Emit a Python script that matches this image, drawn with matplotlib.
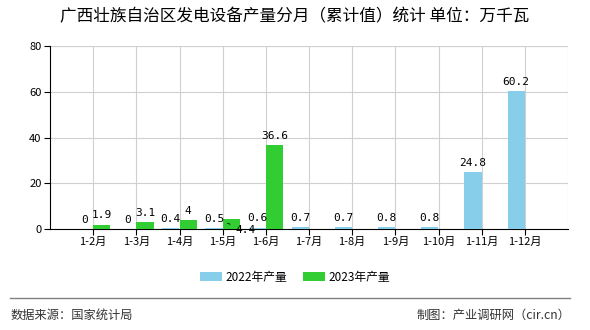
import matplotlib
matplotlib.use("Agg")
import matplotlib.pyplot as plt
import numpy as np

plt.rcParams['font.family'] = ['Noto Sans CJK SC', 'DejaVu Sans']

months = ["1-2月", "1-3月", "1-4月", "1-5月", "1-6月", "1-7月", "1-8月",
          "1-9月", "1-10月", "1-11月", "1-12月"]
prod_2022 = [0, 0, 0.4, 0.5, 0.6, 0.7, 0.7, 0.8, 0.8, 24.8, 60.2]
prod_2023 = [1.9, 3.1, 4, 4.4, 36.6]
yticks = [0, 20, 40, 60, 80]

c22 = "#87CEEB"
c23 = "#32CD32"

fig = plt.figure(figsize=(5.9, 3.3), dpi=100)
ax = fig.add_axes([50/590, 101/330, 518/590, 183/330])

x = np.arange(len(months))
w = 0.4
b1 = ax.bar(x - w/2, prod_2022, w, color=c22, label="2022年产量", zorder=3)
x23 = x[:len(prod_2023)]
b2 = ax.bar(x23 + w/2, prod_2023, w, color=c23, label="2023年产量", zorder=3)

# value labels
for xi, v in zip(x, prod_2022):
    ax.annotate(f"{v:g}", (xi - w/2, v), xytext=(0, 3), textcoords="offset points",
                ha="center", va="bottom", fontsize=8, family="DejaVu Sans Mono")
for xi, v in zip(x23, prod_2023):
    if xi == 3:
        # this one is pushed below the bar with a leader line
        ax.annotate(f"{v:g}", (xi + w/2 - 0.15, v - 1.5), xytext=(xi + 0.53, -0.3),
                    textcoords="data", ha="center", va="center", fontsize=8,
                    family="DejaVu Sans Mono",
                    arrowprops=dict(arrowstyle="-", color="black", lw=0.6))
        continue
    ax.annotate(f"{v:g}", (xi + w/2, v), xytext=(0, 3), textcoords="offset points",
                ha="center", va="bottom", fontsize=8, family="DejaVu Sans Mono")

ax.set_xlim(-1, len(months))
ax.set_ylim(0, 80)
ax.set_xticks(x)
ax.set_xticklabels(months, fontsize=8)
ax.set_yticks(yticks)
ax.set_yticklabels([str(t) for t in yticks], fontsize=8)
ax.grid(True, which="major", color="#d0d0d0", lw=0.8, zorder=0)
ax.axvline(len(months), color="#d0d0d0", lw=0.8, zorder=0)
ax.axhline(80, color="#d0d0d0", lw=0.8, zorder=0)
for s in ["top", "right"]:
    ax.spines[s].set_visible(False)
ax.spines["left"].set_color("black")
ax.spines["bottom"].set_color("black")
ax.tick_params(axis="both", which="major", length=4, width=0.8, pad=2)

fig.text(0.5, 1 - 17/330, "广西壮族自治区发电设备产量分月（累计值）统计 单位：万千瓦",
         ha="center", va="center", fontsize=12)

fig.legend(handles=[b1, b2], loc="center", bbox_to_anchor=(0.5, 1 - 277/330),
           ncol=2, frameon=False, fontsize=8.5, handlelength=1.8, handleheight=0.8,
           columnspacing=1.4, handletextpad=0.3)

fig.add_artist(plt.Line2D([10/590, 570/590], [1 - 298/330, 1 - 298/330],
                          color="#808080", lw=1))
fig.text(11/590, 1 - 315/330, "数据来源：国家统计局", ha="left", va="center", fontsize=8.8,
         color="#333333")
fig.text(570/590, 1 - 315/330, "制图：产业调研网（cir.cn）", ha="right", va="center",
         fontsize=8.8, color="#333333")

fig.savefig("out.png", dpi=100)
